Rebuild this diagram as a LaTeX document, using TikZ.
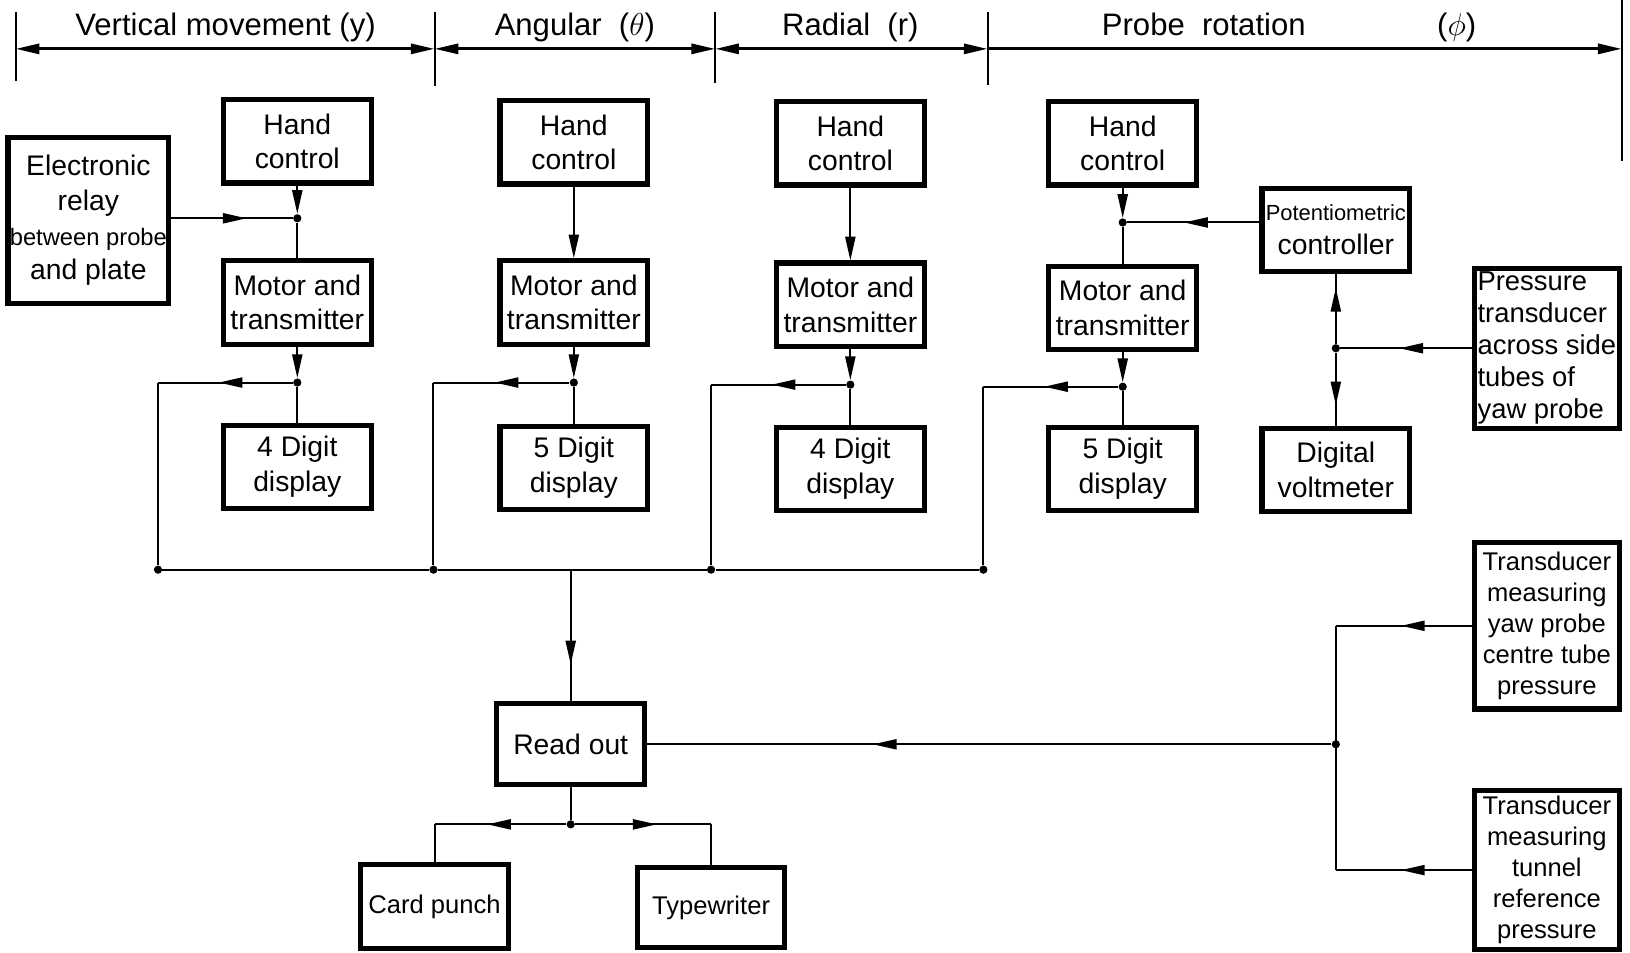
\documentclass[tikz,border=0pt]{standalone}
\usepackage{fontspec}
\setmainfont{Liberation Sans}
\usetikzlibrary{arrows.meta,decorations.markings}

\tikzset{
  block/.style={draw, line width=2.8pt, minimum width=2.84cm, minimum height=1.6cm,
    align=center, inner sep=1pt, font=\fontsize{15.5}{19}\selectfont},
  tallblock/.style={block, minimum height=3.1cm, font=\fontsize{14}{17}\selectfont},
  wire/.style={line width=1.1pt},
  hdr/.style={line width=1.6pt},
  dot/.style={circle, fill, inner sep=0pt, minimum size=4.5pt},
  tip/.style={-{Triangle[length=13pt,width=5.5pt]}},
  midarrow/.style={postaction={decorate}, decoration={markings,
    mark=at position #1 with {\arrow{Triangle[length=13pt,width=5.5pt]}}}},
}

\begin{document}
\begin{tikzpicture}[x=0.02cm, y=-0.02cm]
\useasboundingbox (0,0) rectangle (1568,916);

% heading with the four ranges
\foreach \x/\b in {15/78, 418/83, 688/80, 950/82} \draw[wire] (\x,12) -- (\x,\b);
\draw[wire] (1560,0) -- (1560,155);
\coordinate (t1) at (15,47);
\coordinate (t2) at (418,47);
\coordinate (t3) at (688,47);
\coordinate (t4) at (950,47);
\coordinate (t5) at (1560,47);
\draw[hdr, {Triangle[length=13pt,width=5.5pt]}-{Triangle[length=13pt,width=5.5pt]}] (t1) -- (t2);
\draw[hdr, {Triangle[length=13pt,width=5.5pt]}-{Triangle[length=13pt,width=5.5pt]}] (t2) -- (t3);
\draw[hdr, {Triangle[length=13pt,width=5.5pt]}-{Triangle[length=13pt,width=5.5pt]}] (t3) -- (t4);
\draw[hdr, -{Triangle[length=13pt,width=5.5pt]}] (t4) -- (t5);
\node[font=\fontsize{17}{20}\selectfont] (hy) at (217,26) {Vertical movement (y)};
\node[font=\fontsize{17}{20}\selectfont] (ht) at (553,26) {Angular \ ($\theta$)};
\node[font=\fontsize{17}{20}\selectfont] (hr) at (818,26) {Radial \ (r)};
\node[font=\fontsize{17}{20}\selectfont] (hp) at (1240,26) {Probe \ rotation \hspace{2.2cm} ($\phi$)};

% column y
\node[block] (hc1) at (286,136) {Hand\\control};
\node[block] (mt1) at (286,291) {Motor and\\transmitter};
\node[block] (dd1) at (286,449) {4 Digit\\display};
\node[block, minimum width=2.8cm, minimum height=3.2cm] (relay) at (85,212)
  {Electronic\\relay\\{\fontsize{13}{17}\selectfont between probe}\\and plate};
\node[dot] (j1a) at (286,210) {};
\node[dot] (j1b) at (286,368) {};
\coordinate (c1) at (152,368);
\node[dot] (b1) at (152,548) {};

% column theta
\node[block] (hc2) at (552,137) {Hand\\control};
\node[block] (mt2) at (552,291) {Motor and\\transmitter};
\node[block] (dd2) at (552,450) {5 Digit\\display};
\node[dot] (j2) at (552,368) {};
\coordinate (c2) at (417,368);
\node[dot] (b2) at (417,548) {};

% column r
\node[block] (hc3) at (818,138) {Hand\\control};
\node[block] (mt3) at (818,293) {Motor and\\transmitter};
\node[block] (dd3) at (818,451) {4 Digit\\display};
\node[dot] (j3) at (818,370) {};
\coordinate (c3) at (684,370);
\node[dot] (b3) at (684,548) {};

% column phi
\node[block] (hc4) at (1080,138) {Hand\\control};
\node[block] (mt4) at (1080,296) {Motor and\\transmitter};
\node[block] (dd4) at (1080,451) {5 Digit\\display};
\node[dot] (j4a) at (1080,214) {};
\node[dot] (j4b) at (1080,372) {};
\coordinate (c4) at (946,372);
\node[dot] (b4) at (946,548) {};
\node[block] (pot) at (1285,221) {{\fontsize{12}{15}\selectfont Potentiometric}\\controller};
\node[block] (volt) at (1285,452) {Digital\\voltmeter};
\node[dot] (jp) at (1285,335) {};
\node[block, minimum width=2.8cm, minimum height=3.08cm, font=\fontsize{15}{17.5}\selectfont, align=left] (ptrans) at (1488,335)
  {Pressure\\transducer\\across side\\tubes of\\yaw probe};

% read out and printers
\coordinate (bm) at (549,548);
\node[block, minimum height=1.56cm] (readout) at (549,716) {Read out};
\node[dot] (jo) at (549,793) {};
\coordinate (cl) at (418,793);
\coordinate (cr) at (684,793);
\node[block, font=\fontsize{14}{17}\selectfont] (card) at (418,872) {Card punch};
\node[block, minimum height=1.54cm, font=\fontsize{14}{17}\selectfont] (type) at (684,873) {Typewriter};

% pressure transducers
\node[tallblock, minimum width=2.8cm, minimum height=3.2cm] (tyaw) at (1488,602)
  {Transducer\\measuring\\yaw probe\\centre tube\\pressure};
\node[tallblock, minimum width=2.8cm, minimum height=3.06cm] (tref) at (1488,837)
  {Transducer\\measuring\\tunnel\\reference\\pressure};
\node[dot] (jr) at (1285,716) {};
\coordinate (cy) at (1285,602);
\coordinate (cz) at (1285,837);

% connections
\draw[wire,tip] (hc1) -- (j1a);
\draw[wire] (j1a) -- (mt1);
\draw[wire,midarrow=0.62] (relay.east |- j1a) -- (j1a);
\draw[wire,tip] (mt1) -- (j1b);
\draw[wire] (j1b) -- (dd1);
\draw[wire,midarrow=0.55] (j1b) -- (c1);
\draw[wire] (c1) -- (b1);

\draw[wire,tip] (hc2) -- (mt2);
\draw[wire,tip] (mt2) -- (j2);
\draw[wire] (j2) -- (dd2);
\draw[wire,midarrow=0.55] (j2) -- (c2);
\draw[wire] (c2) -- (b2);

\draw[wire,tip] (hc3) -- (mt3);
\draw[wire,tip] (mt3) -- (j3);
\draw[wire] (j3) -- (dd3);
\draw[wire,midarrow=0.55] (j3) -- (c3);
\draw[wire] (c3) -- (b3);

\draw[wire,tip] (hc4) -- (j4a);
\draw[wire] (j4a) -- (mt4);
\draw[wire,midarrow=0.57] (pot.west |- j4a) -- (j4a);
\draw[wire,tip] (mt4) -- (j4b);
\draw[wire] (j4b) -- (dd4);
\draw[wire,midarrow=0.55] (j4b) -- (c4);
\draw[wire] (c4) -- (b4);

\draw[wire,midarrow=0.8] (jp) -- (pot);
\draw[wire,midarrow=0.72] (jp) -- (volt);
\draw[wire,midarrow=0.55] (ptrans) -- (jp);

\draw[wire] (b1) -- (b2) -- (b3) -- (b4);
\draw[wire,midarrow=0.72] (bm) -- (readout);
\draw[wire] (readout) -- (jo);
\draw[wire,midarrow=0.6] (jo) -- (cl);
\draw[wire] (cl) -- (card);
\draw[wire,midarrow=0.6] (jo) -- (cr);
\draw[wire] (cr) -- (type);

\draw[wire,midarrow=0.67] (jr) -- (readout);
\draw[wire,midarrow=0.52] (tyaw) -- (cy);
\draw[wire,midarrow=0.52] (tref) -- (cz);
\draw[wire] (cy) -- (cz);
\end{tikzpicture}
\end{document}
